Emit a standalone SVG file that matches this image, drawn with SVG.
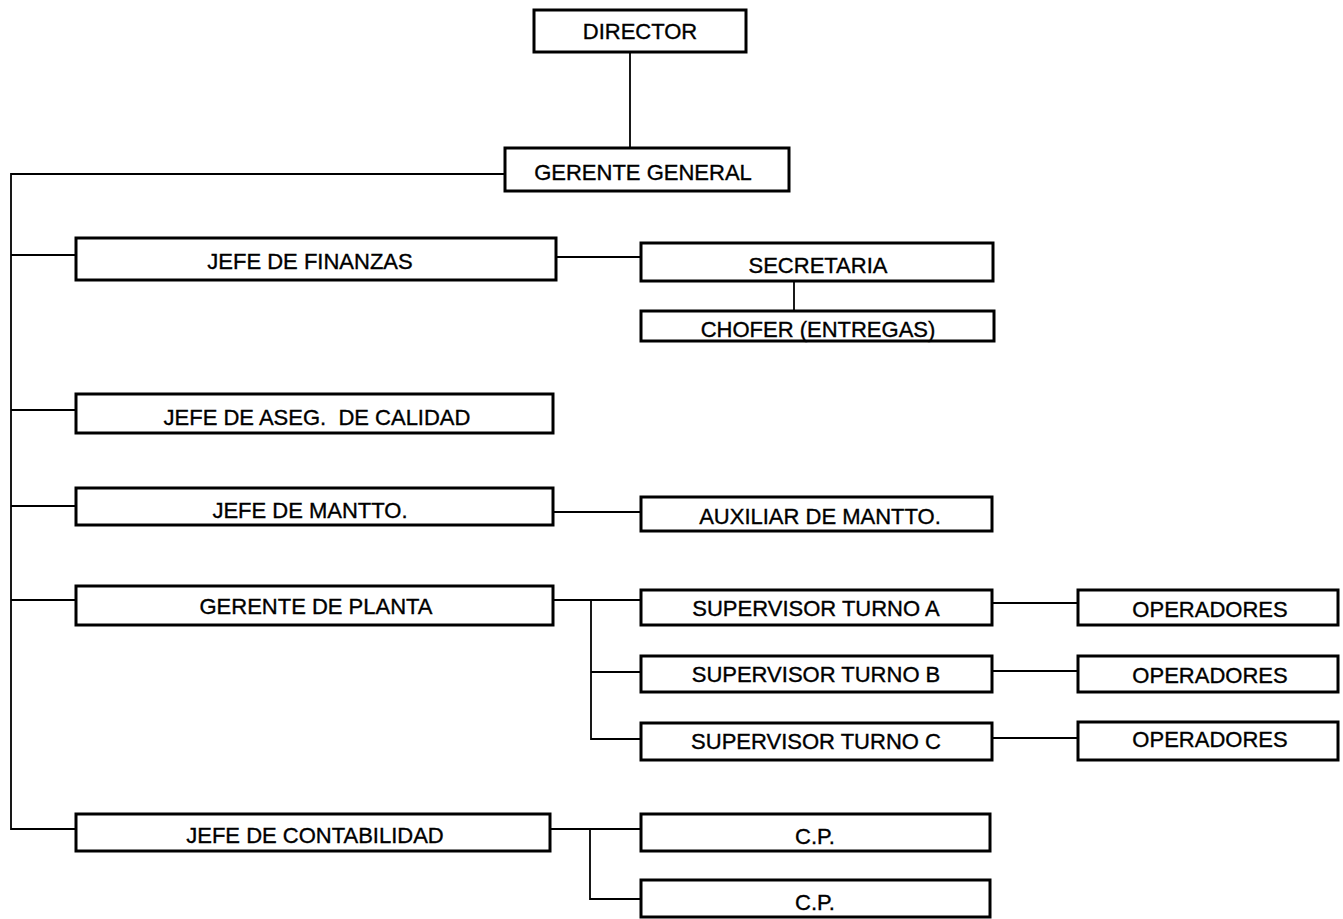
<svg xmlns="http://www.w3.org/2000/svg" width="1343" height="919" viewBox="0 0 1343 919">
<style>
.box{fill:#fff;stroke:#000;stroke-width:3}
.t{font-family:"Liberation Sans",Arial,sans-serif;font-size:22px;fill:#000;stroke:#000;stroke-width:0.35;text-anchor:middle}
.c{stroke:#000;stroke-width:1.8;fill:none}
</style>
<rect width="1343" height="919" fill="#fff"/>
<g id="connectors">
<path class="c" d="M630 52V148"/>
<path class="c" d="M505 174H11V829H76"/>
<path class="c" d="M11 255H76M11 410H76M11 506H76M11 600H76"/>
<path class="c" d="M556 257H641"/>
<path class="c" d="M794 281V311"/>
<path class="c" d="M553 512H641"/>
<path class="c" d="M553 600H641M591 600V739H641M591 672H641"/>
<path class="c" d="M992 603H1078M992 671H1078M992 738H1078"/>
<path class="c" d="M550 829H641M590 829V899H641"/>
</g>
<g id="director"><rect class="box" x="534" y="10" width="212" height="42"/><text class="t" x="640" y="39">DIRECTOR</text></g>
<g id="gerente-general"><rect class="box" x="505" y="148" width="284" height="43"/><text class="t" x="643" y="180">GERENTE GENERAL</text></g>
<g id="jefe-finanzas"><rect class="box" x="76" y="238" width="480" height="42"/><text class="t" x="310" y="269">JEFE DE FINANZAS</text></g>
<g id="secretaria"><rect class="box" x="641" y="243" width="352" height="38"/><text class="t" x="818" y="273">SECRETARIA</text></g>
<g id="chofer"><rect class="box" x="641" y="311" width="353" height="30"/><text class="t" x="818" y="337">CHOFER (ENTREGAS)</text></g>
<g id="jefe-calidad"><rect class="box" x="76" y="394" width="477" height="39"/><text class="t" x="317" y="425" xml:space="preserve">JEFE DE ASEG.  DE CALIDAD</text></g>
<g id="jefe-mantto"><rect class="box" x="76" y="488" width="477" height="37"/><text class="t" x="310" y="518">JEFE DE MANTTO.</text></g>
<g id="auxiliar-mantto"><rect class="box" x="641" y="497" width="351" height="34"/><text class="t" x="820" y="524">AUXILIAR DE MANTTO.</text></g>
<g id="gerente-planta"><rect class="box" x="76" y="586" width="477" height="39"/><text class="t" x="316" y="614">GERENTE DE PLANTA</text></g>
<g id="supervisor-a"><rect class="box" x="641" y="590" width="351" height="35"/><text class="t" x="816" y="616">SUPERVISOR TURNO A</text></g>
<g id="supervisor-b"><rect class="box" x="641" y="656" width="351" height="36"/><text class="t" x="816" y="682">SUPERVISOR TURNO B</text></g>
<g id="supervisor-c"><rect class="box" x="641" y="723" width="351" height="37"/><text class="t" x="816" y="749">SUPERVISOR TURNO C</text></g>
<g id="operadores-a"><rect class="box" x="1078" y="590" width="260" height="35"/><text class="t" x="1210" y="617">OPERADORES</text></g>
<g id="operadores-b"><rect class="box" x="1078" y="656" width="260" height="36"/><text class="t" x="1210" y="683">OPERADORES</text></g>
<g id="operadores-c"><rect class="box" x="1078" y="722" width="260" height="38"/><text class="t" x="1210" y="747">OPERADORES</text></g>
<g id="jefe-contabilidad"><rect class="box" x="76" y="814" width="474" height="37"/><text class="t" x="315" y="843">JEFE DE CONTABILIDAD</text></g>
<g id="cp-1"><rect class="box" x="641" y="814" width="349" height="37"/><text class="t" x="815" y="844">C.P.</text></g>
<g id="cp-2"><rect class="box" x="641" y="880" width="349" height="37"/><text class="t" x="815" y="910">C.P.</text></g>
</svg>
